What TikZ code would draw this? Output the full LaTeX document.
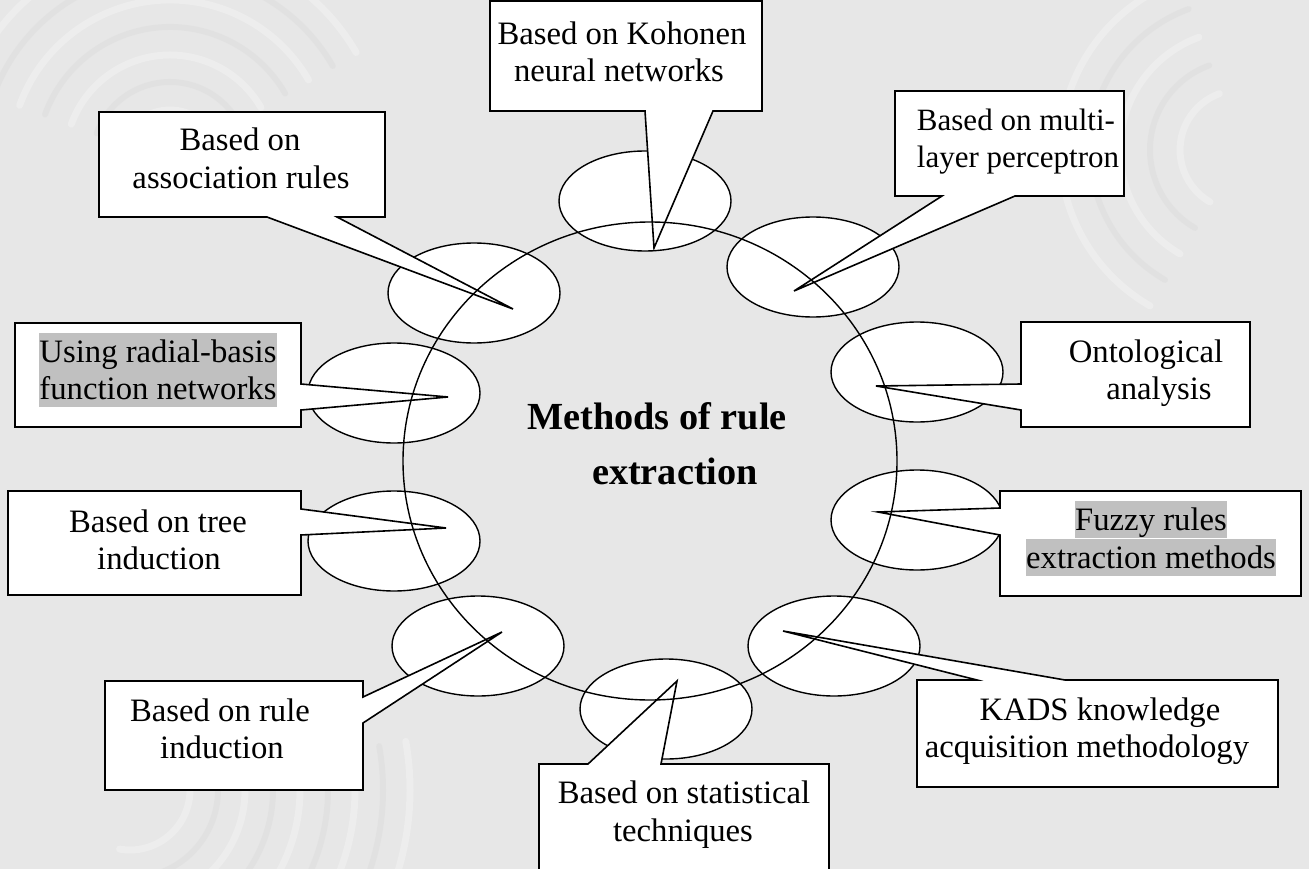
\documentclass[tikz,border=0pt]{standalone}
\usepackage{fontspec}
\setmainfont{Liberation Serif}
\usetikzlibrary{shapes.geometric}
\definecolor{paper}{RGB}{231,231,231}
\definecolor{grainlight}{RGB}{246,246,246}
\definecolor{graindark}{RGB}{214,214,214}
\definecolor{hlgray}{RGB}{192,192,192}
\begin{document}
\begin{tikzpicture}[x=1pt,y=-1pt,
  bubble/.style={ellipse, draw, fill=white, line width=1.4pt,
    minimum width=172pt, minimum height=100pt, inner sep=0pt},
  hubring/.style={ellipse, draw, line width=1.4pt,
    minimum width=494pt, minimum height=478pt, inner sep=0pt},
  callout/.style={draw, fill=white, line width=1.6pt, line join=miter},
  lbl/.style={font=\fontsize{32.7}{37.6}\selectfont, anchor=base, inner sep=0pt},
  lblsmall/.style={font=\fontsize{31}{36}\selectfont, anchor=base, inner sep=0pt},
  hl/.style={lbl, fill=hlgray, text height=29.5pt, text depth=8.3pt},
  ttl/.style={font=\fontsize{38.3}{44}\selectfont\bfseries, anchor=base, inner sep=0pt},
  grainA/.style={grainlight, opacity=.4, line width=7pt, line cap=round},
  grainB/.style={graindark, opacity=.3, line width=6pt, line cap=round}]

% canvas and grainy background
\useasboundingbox (0,0) rectangle (1309,869);
\clip (0,0) rectangle (1309,869);
\fill[paper] (0,0) rectangle (1309,869);
\foreach \r in {60,115,170,225,280}
  \draw[grainA] (130,790) ++(100:\r) arc[start angle=100, end angle=-10, radius=\r];
\foreach \r in {88,143,198,253}
  \draw[grainB] (130,790) ++(100:\r) arc[start angle=100, end angle=-10, radius=\r];
\foreach \r in {50,105,160,215}
  \draw[grainA] (170,160) ++(200:\r) arc[start angle=200, end angle=330, radius=\r];
\foreach \r in {78,133,188}
  \draw[grainB] (170,160) ++(200:\r) arc[start angle=200, end angle=330, radius=\r];
\foreach \r in {60,120,180}
  \draw[grainA] (1240,150) ++(120:\r) arc[start angle=120, end angle=250, radius=\r];
\foreach \r in {90,150}
  \draw[grainB] (1240,150) ++(120:\r) arc[start angle=120, end angle=250, radius=\r];

% the ten bubbles around the hub
\node[bubble] (eK) at (645,201) {};
\node[bubble] (eM) at (813,267) {};
\node[bubble] (eO) at (917,372) {};
\node[bubble] (eF) at (917,520) {};
\node[bubble] (eD) at (834,646) {};
\node[bubble] (eS) at (666,709) {};
\node[bubble] (eR) at (478,646) {};
\node[bubble] (eT) at (394,541) {};
\node[bubble] (eB) at (394,393) {};
\node[bubble] (eA) at (474,293) {};

% pointer tips of the callouts
\coordinate (tK) at (654,248);
\coordinate (tM) at (794,291);
\coordinate (tO) at (876,386);
\coordinate (tF) at (878,512);
\coordinate (tD) at (783,631);
\coordinate (tS) at (677,681);
\coordinate (tR) at (502,632);
\coordinate (tT) at (446,528);
\coordinate (tB) at (448,397);
\coordinate (tA) at (513,309);

% callout boxes with their wedges
\draw[callout] (490,1) -- (762,1) -- (762,111) -- (713,111) -- (tK) -- (645,111) -- (490,111) -- cycle;
\draw[callout] (895,91) -- (1124,91) -- (1124,196) -- (1015,196) -- (tM) -- (942,196) -- (895,196) -- cycle;
\draw[callout] (1021,322) -- (1250,322) -- (1250,427) -- (1021,427) -- (1021,410) -- (tO) -- (1021,384) -- cycle;
\draw[callout] (1000,491) -- (1301,491) -- (1301,596) -- (1000,596) -- (1000,535) -- (tF) -- (1000,508) -- cycle;
\draw[callout] (917,680) -- (977,680) -- (tD) -- (1065,680) -- (1278,680) -- (1278,787) -- (917,787) -- cycle;
\draw[callout] (539,764) -- (588,764) -- (tS) -- (661,764) -- (829,764) -- (829,885) -- (539,885) -- cycle;
\draw[callout] (105,681) -- (363,681) -- (363,697) -- (tR) -- (363,723) -- (363,790) -- (105,790) -- cycle;
\draw[callout] (8,491) -- (301,491) -- (301,509) -- (tT) -- (301,535) -- (301,595) -- (8,595) -- cycle;
\draw[callout] (15,323) -- (301,323) -- (301,384) -- (tB) -- (301,410) -- (301,427) -- (15,427) -- cycle;
\draw[callout] (99,112) -- (385,112) -- (385,217) -- (337,217) -- (tA) -- (267,217) -- (99,217) -- cycle;

% the central ring
\node[hubring] (hub) at (650,461) {};

% callout texts
\node[lbl] (k1) at (622,45) {Based on Kohonen};
\node[lbl] (k2) at (619,82) {neural networks};
\node[lblsmall] (m1) at (1016,131) {Based on multi-};
\node[lblsmall] (m2) at (1018,168) {layer perceptron};
\node[lbl] (o1) at (1146,362) {Ontological};
\node[lbl] (o2) at (1159,399) {analysis};
\node[hl]  (f1) at (1151,530) {Fuzzy rules};
\node[hl]  (f2) at (1151,568) {extraction methods};
\node[lbl] (d1) at (1100,720) {KADS knowledge};
\node[lbl] (d2) at (1087,757) {acquisition methodology};
\node[lbl] (s1) at (684,803) {Based on statistical};
\node[lbl] (s2) at (683,841) {techniques};
\node[lbl] (r1) at (220,721) {Based on rule};
\node[lbl] (r2) at (222,758) {induction};
\node[lbl] (t1) at (158,532) {Based on tree};
\node[lbl] (t2) at (159,569) {induction};
\node[hl]  (b1) at (158,362) {Using radial-basis};
\node[hl]  (b2) at (158,399) {function networks};
\node[lbl] (a1) at (240,151) {Based on};
\node[lbl] (a2) at (241,189) {association rules};

% title in the middle of the ring
\node[ttl] (h1) at (657,429) {Methods of rule};
\node[ttl] (h2) at (675,484) {extraction};
\end{tikzpicture}
\end{document}
